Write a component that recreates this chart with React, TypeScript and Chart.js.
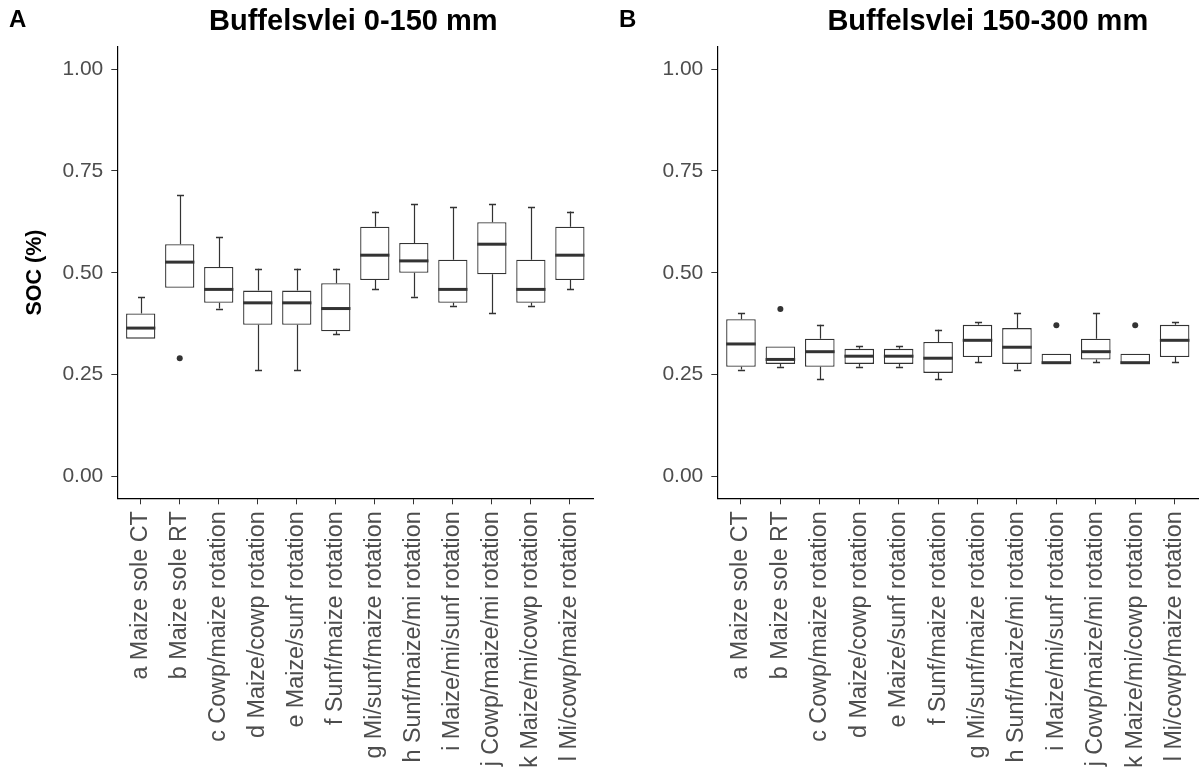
import React, { useEffect, useRef } from "react";
import { Chart, registerables } from "chart.js";

Chart.register(...registerables);

const categories = [
  "a Maize sole CT",
  "b Maize sole RT",
  "c Cowp/maize rotation",
  "d Maize/cowp rotation",
  "e Maize/sunf rotation",
  "f Sunf/maize rotation",
  "g Mi/sunf/maize rotation",
  "h Sunf/maize/mi rotation",
  "i Maize/mi/sunf rotation",
  "j Cowp/maize/mi rotation",
  "k Maize/mi/cowp rotation",
  "l Mi/cowp/maize rotation",
];

const yTickValues = [0, 0.25, 0.5, 0.75, 1.0];

// Panel A: 0-150 mm
const shallowWhiskerHigh = [0.44, 0.69, 0.587, 0.51, 0.51, 0.51, 0.65, 0.669, 0.661, 0.669, 0.661, 0.65];
const shallowQ3 = [0.4, 0.57, 0.514, 0.456, 0.456, 0.474, 0.613, 0.573, 0.532, 0.624, 0.532, 0.613];
const shallowMedian = [0.364, 0.526, 0.459, 0.426, 0.426, 0.412, 0.543, 0.529, 0.459, 0.57, 0.459, 0.543];
const shallowQ1 = [0.338, 0.463, 0.426, 0.372, 0.372, 0.356, 0.482, 0.5, 0.426, 0.496, 0.426, 0.482];
const shallowWhiskerLow = [0.338, 0.463, 0.412, 0.261, 0.261, 0.349, 0.459, 0.441, 0.419, 0.4, 0.419, 0.459];
const shallowOutlierCategory = [1];
const shallowOutlierValue = [0.29];

// Panel B: 150-300 mm
const deepWhiskerHigh = [0.4, 0.319, 0.372, 0.319, 0.319, 0.36, 0.379, 0.4, 0.301, 0.4, 0.301, 0.379];
const deepQ3 = [0.386, 0.319, 0.338, 0.313, 0.313, 0.33, 0.372, 0.364, 0.301, 0.338, 0.301, 0.372];
const deepMedian = [0.325, 0.287, 0.306, 0.295, 0.295, 0.29, 0.334, 0.317, 0.279, 0.306, 0.279, 0.334];
const deepQ1 = [0.269, 0.276, 0.269, 0.276, 0.276, 0.254, 0.293, 0.276, 0.276, 0.287, 0.276, 0.293];
const deepWhiskerLow = [0.262, 0.269, 0.239, 0.269, 0.269, 0.239, 0.28, 0.262, 0.276, 0.28, 0.276, 0.28];
const deepOutlierCategory = [1, 8, 10];
const deepOutlierValue = [0.411, 0.371, 0.371];

const FONT = "'Liberation Sans', Arial, sans-serif";
const INK = "#333333";
const TICK_TEXT = "#4d4d4d";

type PanelDef = {
  letter: string;
  title: string;
  q1: number[];
  median: number[];
  q3: number[];
  whiskerLow: number[];
  whiskerHigh: number[];
  outlierCategory: number[];
  outlierValue: number[];
  showYTitle: boolean;
  left: number;
  width: number;
  padRight: number;
  letterX: number;
  titleShift: number;
};

const panels: PanelDef[] = [
  {
    letter: "A",
    title: "Buffelsvlei 0-150 mm",
    q1: shallowQ1,
    median: shallowMedian,
    q3: shallowQ3,
    whiskerLow: shallowWhiskerLow,
    whiskerHigh: shallowWhiskerHigh,
    outlierCategory: shallowOutlierCategory,
    outlierValue: shallowOutlierValue,
    showYTitle: true,
    left: 0,
    width: 600,
    padRight: 6.7,
    letterX: 9,
    titleShift: -2,
  },
  {
    letter: "B",
    title: "Buffelsvlei 150-300 mm",
    q1: deepQ1,
    median: deepMedian,
    q3: deepQ3,
    whiskerLow: deepWhiskerLow,
    whiskerHigh: deepWhiskerHigh,
    outlierCategory: deepOutlierCategory,
    outlierValue: deepOutlierValue,
    showYTitle: false,
    left: 600,
    width: 603,
    padRight: 4.7,
    letterX: 19,
    titleShift: 30,
  },
];

const HEIGHT = 778;

function BoxPanel({ p }: { p: PanelDef }) {
  const ref = useRef<HTMLCanvasElement | null>(null);

  useEffect(() => {
    if (!ref.current) return;

    const boxParts = {
      id: "boxParts",
      beforeDatasetsDraw(chart: any) {
        const { ctx } = chart;
        const xs = chart.scales.x;
        const ys = chart.scales.y;
        ctx.save();
        ctx.strokeStyle = INK;
        categories.forEach((_, i) => {
          const cx = Math.round(xs.getPixelForValue(i)) + 0.5;
          const cap = xs.getPixelForValue(i + 0.09) - xs.getPixelForValue(i);
          const hi = ys.getPixelForValue(p.whiskerHigh[i]);
          const q3 = ys.getPixelForValue(p.q3[i]);
          const q1 = ys.getPixelForValue(p.q1[i]);
          const lo = ys.getPixelForValue(p.whiskerLow[i]);
          ctx.lineWidth = 1.2;
          ctx.beginPath();
          if (p.whiskerHigh[i] > p.q3[i]) {
            ctx.moveTo(cx, hi);
            ctx.lineTo(cx, q3);
          }
          if (p.whiskerLow[i] < p.q1[i]) {
            ctx.moveTo(cx, q1);
            ctx.lineTo(cx, lo);
          }
          ctx.stroke();
          ctx.beginPath();
          ctx.lineWidth = 1.5;
          if (p.whiskerHigh[i] > p.q3[i]) {
            ctx.moveTo(cx - cap, Math.round(hi) + 0.5);
            ctx.lineTo(cx + cap, Math.round(hi) + 0.5);
          }
          if (p.whiskerLow[i] < p.q1[i]) {
            ctx.moveTo(cx - cap, Math.round(lo) + 0.5);
            ctx.lineTo(cx + cap, Math.round(lo) + 0.5);
          }
          ctx.stroke();
        });
        ctx.restore();
      },
      afterDatasetsDraw(chart: any) {
        const { ctx } = chart;
        const xs = chart.scales.x;
        const ys = chart.scales.y;
        ctx.save();
        ctx.strokeStyle = INK;
        ctx.lineWidth = 3;
        categories.forEach((_, i) => {
          const x0 = xs.getPixelForValue(i - 0.375);
          const x1 = xs.getPixelForValue(i + 0.375);
          const y = ys.getPixelForValue(p.median[i]);
          ctx.beginPath();
          ctx.moveTo(x0, y);
          ctx.lineTo(x1, y);
          ctx.stroke();
        });
        ctx.restore();
      },
      afterDraw(chart: any) {
        const { ctx, chartArea } = chart;
        ctx.save();
        ctx.fillStyle = "#000";
        ctx.textBaseline = "middle";
        ctx.textAlign = "center";
        ctx.font = `bold 29px ${FONT}`;
        ctx.fillText(p.title, (chartArea.left + chartArea.right) / 2 + p.titleShift, 22);
        ctx.textAlign = "left";
        ctx.font = `bold 24px ${FONT}`;
        ctx.fillText(p.letter, p.letterX, 20);
        ctx.restore();
      },
    };

    const chart = new Chart(ref.current, {
      type: "bar",
      data: {
        datasets: [
          {
            type: "bar",
            data: categories.map((_, i) => ({ x: i, y: [p.q1[i], p.q3[i]] })) as any,
            backgroundColor: "#ffffff",
            borderColor: INK,
            borderWidth: 1.3,
            borderSkipped: false,
            categoryPercentage: 0.75,
            barPercentage: 1,
            order: 2,
          },
          {
            type: "scatter",
            data: p.outlierCategory.map((c, k) => ({ x: c, y: p.outlierValue[k] })),
            pointRadius: 3,
            pointBackgroundColor: INK,
            pointBorderWidth: 0,
            backgroundColor: INK,
            borderColor: INK,
            order: 1,
          } as any,
        ],
      },
      plugins: [boxParts],
      options: {
        responsive: false,
        animation: false,
        events: [],
        layout: { padding: { left: 0, right: p.padRight, top: 46.7, bottom: 0 } },
        plugins: {
          legend: { display: false },
          tooltip: { enabled: false },
          title: { display: false },
        },
        scales: {
          x: {
            type: "linear",
            min: -0.6,
            max: 11.6,
            offset: false,
            bounds: "data",
            afterBuildTicks: (axis: any) => {
              axis.ticks = categories.map((_, i) => ({ value: i }));
            },
            afterFit: (axis: any) => {
              axis.height = HEIGHT - 498.3;
              axis.paddingLeft = 0;
              axis.paddingRight = 0;
            },
            grid: {
              display: true,
              drawOnChartArea: false,
              drawTicks: true,
              tickLength: 6,
              color: INK,
              offset: false,
            },
            border: { display: true, color: "#000", width: 1.2 },
            ticks: {
              autoSkip: false,
              minRotation: 90,
              maxRotation: 90,
              padding: 7,
              color: TICK_TEXT,
              font: { family: FONT, size: 23.3 },
              callback: (v: any) => categories[Number(v)] ?? "",
            },
          } as any,
          y: {
            type: "linear",
            min: -0.054,
            max: 1.055,
            bounds: "data",
            afterBuildTicks: (axis: any) => {
              axis.ticks = yTickValues.map((v) => ({ value: v }));
            },
            afterFit: (axis: any) => {
              axis.width = 117.3;
              axis.paddingTop = 0;
              axis.paddingBottom = 0;
            },
            grid: {
              display: true,
              drawOnChartArea: false,
              drawTicks: true,
              tickLength: 6,
              color: INK,
            },
            border: { display: true, color: "#000", width: 1.2 },
            ticks: {
              padding: 8,
              color: TICK_TEXT,
              font: { family: FONT, size: 21 },
              callback: (v: any) => Number(v).toFixed(2),
            },
            title: {
              display: p.showYTitle,
              text: "SOC (%)",
              color: "#000",
              font: { family: FONT, size: 21.5, weight: "bold" },
              padding: { top: 22, bottom: 0 },
            },
          } as any,
        },
      },
    });

    return () => chart.destroy();
  }, [p]);

  return (
    <canvas
      ref={ref}
      width={p.width}
      height={HEIGHT}
      style={{ position: "absolute", left: p.left, top: 0, width: p.width, height: HEIGHT }}
    />
  );
}

export default function App() {
  return (
    <div
      style={{
        position: "fixed",
        left: 0,
        top: 0,
        width: 1203,
        height: HEIGHT,
        background: "#ffffff",
        overflow: "hidden",
      }}
    >
      {panels.map((p) => (
        <BoxPanel key={p.letter} p={p} />
      ))}
    </div>
  );
}
